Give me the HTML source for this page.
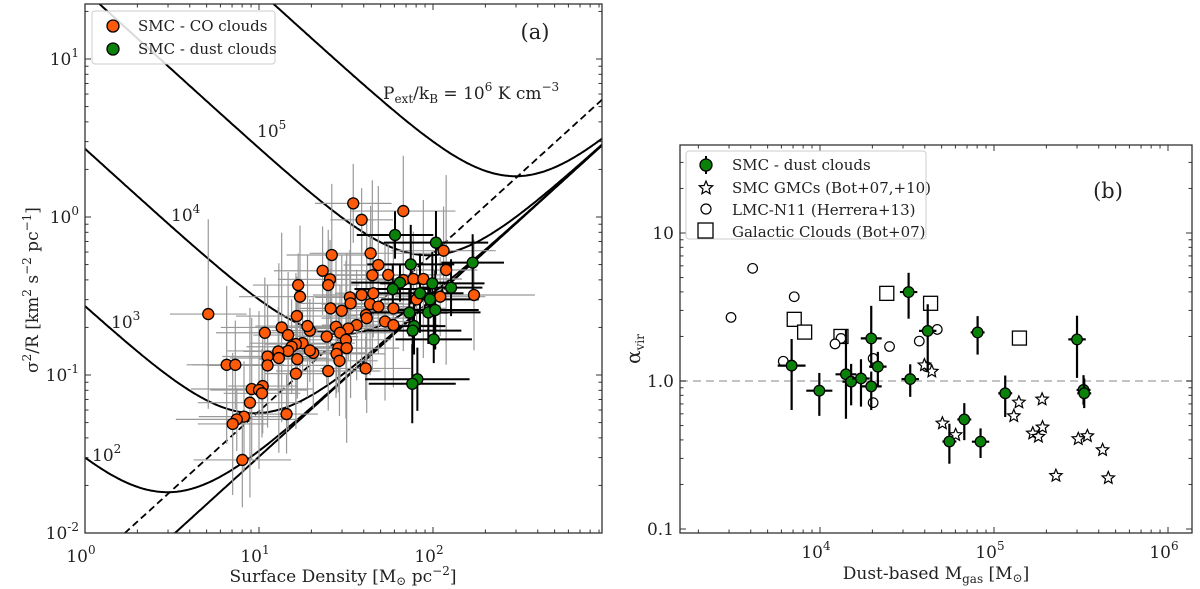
<!DOCTYPE html>
<html><head><meta charset="utf-8"><style>
html,body{margin:0;padding:0;background:#fff;overflow:hidden;width:1200px;height:589px;}
svg{display:block;overflow:hidden;font-family:"DejaVu Serif","Liberation Serif",serif;}
</style></head><body>
<svg id="fig" width="1200" height="589" viewBox="0 0 1200 589" xmlns="http://www.w3.org/2000/svg">
<defs>
<clipPath id="clipA"><rect x="85" y="4" width="517" height="529"/></clipPath>
<clipPath id="clipB"><rect x="680" y="145" width="512" height="388"/></clipPath>
</defs>
<g id="panelA"></g>
<g id="panelB"></g>
</svg>
<script>
// ---------- Panel (a) data ----------
const coSigma=[34.8,67.5,38.9,26.2,43.8,48.5,23.2,44.8,25.6,25.0,16.8,17.2,33.3,38.9,45.4,33.6,25.8,29.9,55.3,67.5,77.1,88.0,115,119,110,172,80.5,43.5,48.5,59.2,41.2,41.6,16.5,36.4,32.6,27.7,29.2,53.0,59.2,13.5,14.7,10.8,19.6,19.0,24.5,31.6,28.6,31.9,27.9,29.0,17.8,16.3,15.4,14.7,12.9,13.0,16.6,20.5,19.6,11.2,11.2,6.52,7.31,5.11,25.0,16.3,41.0,9.08,10.5,10.0,10.4,8.87,14.4,8.2,7.45,7.06,8.02];
const coVal=[1.22,1.09,0.96,0.575,0.589,0.497,0.457,0.428,0.403,0.371,0.371,0.313,0.310,0.321,0.329,0.284,0.264,0.255,0.430,0.399,0.405,0.405,0.612,0.462,0.313,0.321,0.301,0.281,0.271,0.264,0.240,0.229,0.236,0.207,0.197,0.202,0.185,0.218,0.207,0.200,0.179,0.185,0.191,0.204,0.175,0.167,0.148,0.148,0.136,0.123,0.159,0.157,0.151,0.142,0.141,0.128,0.126,0.138,0.143,0.131,0.115,0.116,0.116,0.243,0.106,0.102,0.110,0.0815,0.0851,0.0804,0.0766,0.0668,0.0566,0.0545,0.0524,0.049,0.029];
const dustSigma=[60.5,104,74.5,169,64.6,58.7,99.1,84.2,127,96.1,73.1,94.0,103,77.8,76.4,101,81.3,76.0];
const dustVal=[0.769,0.688,0.501,0.514,0.384,0.350,0.380,0.329,0.357,0.301,0.248,0.249,0.258,0.204,0.191,0.168,0.094,0.088];
const coErrX=[0.22,0.3,0.18,0.26,0.35,0.2,0.28];        // dex
const coErrY=[0.25,0.35,0.2,0.45,0.3,0.5,0.28,0.6];     // dex
const dustErrX=[0.22,0.3,0.25,0.18,0.28];
const dustErrY=[0.15,0.2,0.25,0.18,0.12];
const pressures=[1e2,1e3,1e4,1e5,1e6];
const pressLabels=["2","3","4","5"];
const xTicksA=[0,1,2];
const yTicksA=[-2,-1,0,1];

// ---------- Panel (b) data ----------
const dMass=[6870,9910,14100,15100,17200,19700,19700,21500,32300,33000,41600,55400,67500,80500,83700,116000,300000,327000,330000];
const dAlpha=[1.27,0.86,1.11,0.99,1.04,1.94,0.92,1.25,3.99,1.03,2.18,0.39,0.55,2.13,0.389,0.826,1.91,0.87,0.826];
const dErrUp=[0.18,0.12,0.30,0.12,0.13,0.22,0.10,0.10,0.13,0.10,0.18,0.12,0.11,0.11,0.09,0.12,0.16,0.10,0.10];
const dErrDn=[0.30,0.17,0.30,0.16,0.19,0.20,0.16,0.14,0.18,0.12,0.28,0.15,0.14,0.15,0.11,0.16,0.26,0.10,0.10];
const dErrX=[0.08,0.075,0.06,0.05,0.05,0.06,0.06,0.05,0.05,0.05,0.05,0.04,0.04,0.04,0.05,0.04,0.05,0.04,0.04];
const gmcMass=[39800,43900,50500,60200,139000,130000,189000,167000,180000,190000,305000,344000,421000,227000,454000];
const gmcAlpha=[1.28,1.16,0.518,0.432,0.718,0.580,0.752,0.443,0.421,0.487,0.406,0.425,0.342,0.229,0.221];
const lmcMass=[4100,3080,7110,6150,13200,12200,20200,20200,25100,37200,47200,41000];
const lmcAlpha=[5.77,2.69,3.71,1.36,1.94,1.78,1.42,0.714,1.71,1.86,2.23,1.25];
const galMass=[7110,8160,13200,24200,43200,140000];
const galAlpha=[2.61,2.14,2.0,3.91,3.35,1.95];
const xTicksB=[4,5,6];
const yTicksB=[-1,0,1];
const yTickLabelsB=["0.1","1.0","10"];

// ---------- helpers ----------
const NS="http://www.w3.org/2000/svg";
function mk(tag,attrs,parent){const e=document.createElementNS(NS,tag);for(const k in attrs)e.setAttribute(k,attrs[k]);parent.appendChild(e);return e;}
const L10=Math.log10;
const AX0=85,AX1=602,AY0=4,AY1=533;
const ax=v=>AX0+174*L10(v);
const ay=v=>217-158*L10(v);
const BX0=680,BX1=1192,BY0=145,BY1=533;
const bx=v=>820+174*(L10(v)-4);
const by=v=>381-148*L10(v);

const A=document.getElementById('panelA');
const B=document.getElementById('panelB');

// ---- Panel a curves ----
const aCoef=0.00304, bCoef=2.7e-4, virCoef=0.0059;
const gc=mk('g',{'clip-path':'url(#clipA)'},A);


function curvePath(f){let d="";for(let i=0;i<=300;i++){const ls=i/300*3.2-0.1;const s=Math.pow(10,ls);const v=f(s);d+=(i?"L":"M")+ax(s).toFixed(1)+" "+ay(v).toFixed(1);}return d;}
pressures.forEach(p=>{
  const c=mk('path',{d:curvePath(s=>aCoef*s+bCoef*p/s),fill:'none',stroke:'#000','stroke-width':2},gc);
  
  
});
const asy=mk('path',{d:curvePath(s=>aCoef*s),fill:'none',stroke:'#000','stroke-width':2},gc);


const vir=mk('path',{d:curvePath(s=>virCoef*s),fill:'none',stroke:'#000','stroke-width':1.8,'stroke-dasharray':'7,4'},gc);



// ---- Panel a error bars and points ----
const ge=mk('g',{'clip-path':'url(#clipA)'},A);


coSigma.forEach((s,i)=>{
  const v=coVal[i],ex=coErrX[i%coErrX.length],ey=coErrY[i%coErrY.length];
  const f=Math.pow(10,ex),g=Math.pow(10,ey);
  mk('line',{x1:ax(s/f),x2:ax(s*f),y1:ay(v),y2:ay(v),stroke:'#999','stroke-width':1.2},ge);
  mk('line',{x1:ax(s),x2:ax(s),y1:ay(v/g),y2:ay(v*g),stroke:'#999','stroke-width':1.2},ge);
});
const gde=mk('g',{'clip-path':'url(#clipA)'},A);


dustSigma.forEach((s,i)=>{
  const v=dustVal[i],ex=dustErrX[i%dustErrX.length],ey=dustErrY[i%dustErrY.length];
  const f=Math.pow(10,ex),g=Math.pow(10,ey);
  mk('line',{x1:ax(s/f),x2:ax(s*f),y1:ay(v),y2:ay(v),stroke:'#000','stroke-width':2},gde);
  mk('line',{x1:ax(s),x2:ax(s),y1:ay(v/g),y2:ay(v*g),stroke:'#000','stroke-width':2},gde);
});
const gp=mk('g',{'clip-path':'url(#clipA)'},A);
coSigma.forEach((s,i)=>{
  const c=mk('circle',{cx:ax(s),cy:ay(coVal[i]),r:5.5,fill:'#ff5a0a',stroke:'#000','stroke-width':1.3},gp);
  
  
});
dustSigma.forEach((s,i)=>{
  const c=mk('circle',{cx:ax(s),cy:ay(dustVal[i]),r:5.5,fill:'#0a820a',stroke:'#000','stroke-width':1.3},gp);
  
  
});

function frame(P,x0,y0,x1,y1,name){
  const r=mk('rect',{x:x0,y:y0,width:x1-x0,height:y1-y0,fill:'none',stroke:'#333','stroke-width':1.3},P);
  
  
}
function ticksLog(P,isX,scale,lo,hi,a0,a1,b0,b1){
  for(let d=Math.floor(lo)-1;d<=Math.ceil(hi);d++){
    for(let m=1;m<10;m++){
      const v=m*Math.pow(10,d);const lv=L10(v);if(lv<lo-1e-6||lv>hi+1e-6)continue;
      const p=scale(v);const len=m===1?6:3.5;
      if(isX){mk('line',{x1:p,x2:p,y1:b1,y2:b1-len,stroke:'#333','stroke-width':1},P);mk('line',{x1:p,x2:p,y1:b0,y2:b0+len,stroke:'#333','stroke-width':1},P);}
      else{mk('line',{y1:p,y2:p,x1:a0,x2:a0+len,stroke:'#333','stroke-width':1},P);mk('line',{y1:p,y2:p,x1:a1,x2:a1-len,stroke:'#333','stroke-width':1},P);}
    }
  }
}
function txt(P,x,y,html,opts,name){
  const t=mk('text',Object.assign({x:x,y:y,'font-size':17,fill:'#222'},opts||{}),P);
  t.innerHTML=html;
  
  
  return t;
}

frame(A,AX0,AY0,AX1,AY1,'axes-frame-a');
ticksLog(A,true,ax,0,L10(940),AX0,AX1,AY0,AY1);
ticksLog(A,false,ay,-2,1.34,AX0,AX1,AY0,AY1);
xTicksA.forEach(e=>{txt(A,ax(Math.pow(10,e))-4,562,'10<tspan dy="-8" font-size="12">'+e+'</tspan>',{'text-anchor':'middle'},'x-tick-label-a');});
yTicksA.forEach(e=>{txt(A,79,ay(Math.pow(10,e))+6,'10<tspan dy="-8" font-size="12">'+e+'</tspan>',{'text-anchor':'end'},'y-tick-label-a');});
txt(A,343,582,'Surface Density [M<tspan font-size="12" dy="3">⊙</tspan><tspan dy="-3"> pc</tspan><tspan dy="-7" font-size="12">−2</tspan><tspan dy="7">]</tspan>',{'text-anchor':'middle'},'x-axis-title-a');
txt(A,0,0,'σ<tspan dy="-7" font-size="12">2</tspan><tspan dy="7">/R [km</tspan><tspan dy="-7" font-size="12">2</tspan><tspan dy="7"> s</tspan><tspan dy="-7" font-size="12">−2</tspan><tspan dy="7"> pc</tspan><tspan dy="-7" font-size="12">−1</tspan><tspan dy="7">]</tspan>',{'text-anchor':'middle',transform:'translate(38,290) rotate(-90)'},'y-axis-title-a');
const labPos=[[92,461],[111,328],[171,221],[257,137]];
pressLabels.forEach((l,i)=>{txt(A,labPos[i][0],labPos[i][1],'10<tspan dy="-8" font-size="12">'+l+'</tspan>',{},'curve-label-'+l);});
txt(A,383,99,'P<tspan font-size="12" dy="4">ext</tspan><tspan dy="-4">/k</tspan><tspan font-size="12" dy="4">B</tspan><tspan dy="-4"> = 10</tspan><tspan dy="-8" font-size="12">6</tspan><tspan dy="8"> K cm</tspan><tspan dy="-8" font-size="12">−3</tspan>',{},'pressure-label-1e6');
txt(A,535,39,'(a)',{'font-size':21,'text-anchor':'middle'},'panel-label-a');
const lgA=mk('g',{},A);


mk('rect',{x:92,y:11,width:183,height:53,rx:3,fill:'#fff','fill-opacity':0.85,stroke:'#ccc'},lgA);
mk('circle',{cx:113,cy:26,r:6,fill:'#ff5a0a',stroke:'#000','stroke-width':1.3},lgA);
mk('circle',{cx:113,cy:49,r:6,fill:'#0a820a',stroke:'#000','stroke-width':1.3},lgA);
txt(lgA,138,31,'SMC - CO clouds',{'font-size':15},'legend-entry-co');
txt(lgA,138,54,'SMC - dust clouds',{'font-size':15},'legend-entry-dust');

// ---- Panel b ----
const hl=mk('line',{x1:BX0,x2:BX1,y1:by(1),y2:by(1),stroke:'#bbb','stroke-width':1.8,'stroke-dasharray':'8,5'},B);


const gb=mk('g',{'clip-path':'url(#clipB)'},B);
function starPath(cx,cy,R){const r=R*0.45;let d="";for(let k=0;k<10;k++){const a=-Math.PI/2+k*Math.PI/5;const rr=k%2?r:R;d+=(k?"L":"M")+(cx+rr*Math.cos(a)).toFixed(1)+" "+(cy+rr*Math.sin(a)).toFixed(1);}return d+"Z";}
galMass.forEach((m,i)=>{
  const s=mk('rect',{x:bx(m)-7,y:by(galAlpha[i])-7,width:14,height:14,fill:'#fff',stroke:'#000','stroke-width':1.3},gb);
  
  
});
lmcMass.forEach((m,i)=>{
  const c=mk('circle',{cx:bx(m),cy:by(lmcAlpha[i]),r:4.8,fill:'#fff',stroke:'#000','stroke-width':1.2},gb);
  
  
});
gmcMass.forEach((m,i)=>{
  const s=mk('path',{d:starPath(bx(m),by(gmcAlpha[i]),6.5),fill:'#fff',stroke:'#000','stroke-width':1.2},gb);
  
  
});
dMass.forEach((m,i)=>{
  const a=dAlpha[i],x=bx(m),y=by(a);
  const fx=Math.pow(10,dErrX[i]);
  const g=mk('g',{},gb);
  
  
  mk('line',{x1:bx(m/fx),x2:bx(m*fx),y1:y,y2:y,stroke:'#000','stroke-width':2.2},g);
  mk('line',{x1:x,x2:x,y1:by(a*Math.pow(10,dErrUp[i])),y2:by(a/Math.pow(10,dErrDn[i])),stroke:'#000','stroke-width':2.2},g);
  mk('circle',{cx:x,cy:y,r:5.3,fill:'#0a820a',stroke:'#000','stroke-width':1.3},g);
});
frame(B,BX0,BY0,BX1,BY1,'axes-frame-b');
ticksLog(B,true,bx,(680-820)/174+4,(1192-820)/174+4,BX0,BX1,BY0,BY1);
ticksLog(B,false,by,-1-4/148,(381-145)/148,BX0,BX1,BY0,BY1);
xTicksB.forEach(e=>{txt(B,bx(Math.pow(10,e))-4,558,'10<tspan dy="-8" font-size="12">'+e+'</tspan>',{'text-anchor':'middle'},'x-tick-label-b');});
yTicksB.forEach((e,i)=>{txt(B,674,by(Math.pow(10,e))+6,yTickLabelsB[i],{'text-anchor':'end'},'y-tick-label-b');});
txt(B,936,579,'Dust-based M<tspan font-size="12" dy="4">gas</tspan><tspan dy="-4"> [M</tspan><tspan font-size="12" dy="3">⊙</tspan><tspan dy="-3">]</tspan>',{'text-anchor':'middle'},'x-axis-title-b');
txt(B,0,0,'α<tspan font-size="12" dy="4">vir</tspan>',{'text-anchor':'middle','font-size':20,transform:'translate(640,349) rotate(-90)'},'y-axis-title-b');
txt(B,1108,198,'(b)',{'font-size':21,'text-anchor':'middle'},'panel-label-b');
const lgB=mk('g',{},B);


mk('rect',{x:686,y:151,width:240,height:88,rx:3,fill:'#fff','fill-opacity':0.85,stroke:'#ccc'},lgB);
mk('line',{x1:706,x2:706,y1:156,y2:174,stroke:'#000','stroke-width':2},lgB);
mk('circle',{cx:706,cy:165,r:6,fill:'#0a820a',stroke:'#000','stroke-width':1.3},lgB);
mk('path',{d:starPath(706,188,7),fill:'#fff',stroke:'#000','stroke-width':1.2},lgB);
mk('circle',{cx:706,cy:209,r:5,fill:'#fff',stroke:'#000','stroke-width':1.2},lgB);
mk('rect',{x:698,y:223,width:15,height:15,fill:'#fff',stroke:'#000','stroke-width':1.3},lgB);
txt(lgB,732,170,'SMC - dust clouds',{'font-size':15},'legend-entry-smc-dust');
txt(lgB,732,193,'SMC GMCs (Bot+07,+10)',{'font-size':15},'legend-entry-smc-gmcs');
txt(lgB,732,215,'LMC-N11 (Herrera+13)',{'font-size':15},'legend-entry-lmc-n11');
txt(lgB,732,237,'Galactic Clouds (Bot+07)',{'font-size':15},'legend-entry-galactic');
</script>
</body></html>
